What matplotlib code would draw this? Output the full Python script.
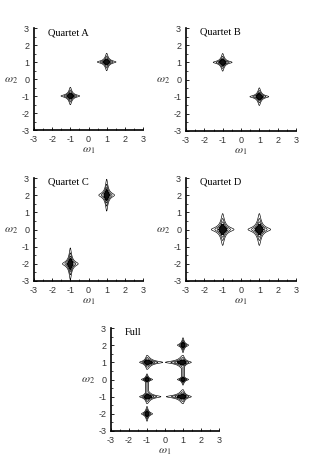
import numpy as np
import matplotlib.pyplot as plt

plt.rcParams["mathtext.fontset"] = "stix"

# peak centres (w1, w2) and arm lengths (left, right, down, up) for each panel
titulos = ["Quartet A", "Quartet B", "Quartet C", "Quartet D", "Full"]
centros = [
    [(1, 1), (-1, -1)],
    [(-1, 1), (1, -1)],
    [(1, 2), (-1, -2)],
    [(-1, 0), (1, 0)],
    [(-1, 1), (-1, 0), (-1, -1), (-1, -2), (1, 2), (1, 1), (1, 0), (1, -1)],
]
brazos = [
    [(0.5, 0.5, 0.5, 0.5), (0.5, 0.5, 0.5, 0.5)],
    [(0.5, 0.5, 0.5, 0.5), (0.5, 0.5, 0.5, 0.5)],
    [(0.42, 0.42, 0.9, 0.9), (0.42, 0.42, 0.9, 0.9)],
    [(0.6, 0.6, 0.9, 0.9), (0.6, 0.6, 0.9, 0.9)],
    [(0.4, 0.85, 0.4, 0.4), (0.3, 0.3, 0.32, 0.32),
     (0.4, 0.75, 0.4, 0.4), (0.3, 0.3, 0.42, 0.42),
     (0.3, 0.3, 0.42, 0.42), (0.95, 0.45, 0.4, 0.4),
     (0.3, 0.3, 0.32, 0.32), (0.9, 0.45, 0.4, 0.4)],
]
# star sharpness of each panel
picudez = [60, 60, 60, 60, 40]
# vertical ridges in the full distribution: (x, y0, y1, half-width)
crestas = [(1, 0, 1, 0.09), (-1, -1, 0, 0.09)]

niveles = [0.045, 0.09, 0.17, 0.3]
ticks = [-3, -2, -1, 0, 1, 2, 3]

# axes boxes in pixels: left, top, right, bottom
cajas = [(34, 28, 143, 130), (186, 28, 296, 131),
         (34, 178, 143, 281), (186, 178, 296, 281),
         (111, 328, 219, 431)]

W, H = 325, 470
fig = plt.figure(figsize=(W / 100, H / 100), dpi=100)

x = np.linspace(-3, 3, 700)
X, Y = np.meshgrid(x, x)


def pico(cx, cy, brazo, k):
    # cross shaped peak, outer contour reaches the arm lengths
    izq, der, aba, arr = brazo
    u = np.where(X < cx, (X - cx) / izq, (X - cx) / der)
    v = np.where(Y < cy, (Y - cy) / aba, (Y - cy) / arr)
    return 1.0 / (1.0 + 20.0 * (u ** 2 + v ** 2 + k * u ** 2 * v ** 2))


def cresta(x0, y0, y1, w):
    dy = np.clip(Y, y0, y1)
    d = np.hypot(X - x0, Y - dy)
    return 0.12 * np.exp(-(d / w) ** 2)


for k in range(5):
    l, t, r, b = cajas[k]
    ax = fig.add_axes([l / W, 1 - b / H, (r - l) / W, (b - t) / H])
    Z = np.zeros_like(X)
    for (cx, cy), brazo in zip(centros[k], brazos[k]):
        Z = np.maximum(Z, pico(cx, cy, brazo, picudez[k]))
    if k == 4:
        for c in crestas:
            Z = np.maximum(Z, cresta(*c))
    ax.contour(X, Y, Z, levels=niveles, colors="k", linewidths=0.45)
    ax.contourf(X, Y, Z, levels=[0.3, 1.1], colors="#111111")
    ax.set_xlim(-3, 3)
    ax.set_ylim(-3, 3)
    ax.set_xticks(ticks)
    ax.set_yticks(ticks)
    ax.set_xticks(np.arange(-2.5, 3, 1), minor=True)
    ax.set_yticks(np.arange(-2.5, 3, 1), minor=True)
    ax.set_xticklabels([str(v) for v in ticks], fontsize=6.5,
                       family="Liberation Sans", color="#333333")
    ax.set_yticklabels([str(v) for v in ticks], fontsize=6.5,
                       family="Liberation Sans", color="#333333")
    ax.tick_params(direction="in", length=2.5, width=0.6, pad=3.5)
    ax.tick_params(which="minor", direction="in", length=1.5, width=0.5)
    for s in ["top", "right"]:
        ax.spines[s].set_visible(False)
    for s in ["left", "bottom"]:
        ax.spines[s].set_linewidth(1.2)
    ax.text(0.13, 1.0, titulos[k], transform=ax.transAxes, fontsize=7.5,
            family="Liberation Serif", va="top", ha="left")
    ax.text(0.5, -0.13, r"$\omega_1$", transform=ax.transAxes, fontsize=8.5,
            ha="center", va="top", color="#333333")
    ax.text(-0.15, 0.5, r"$\omega_2$", transform=ax.transAxes, fontsize=8.5,
            ha="right", va="center", color="#333333")

fig.savefig("out.png", dpi=100)
